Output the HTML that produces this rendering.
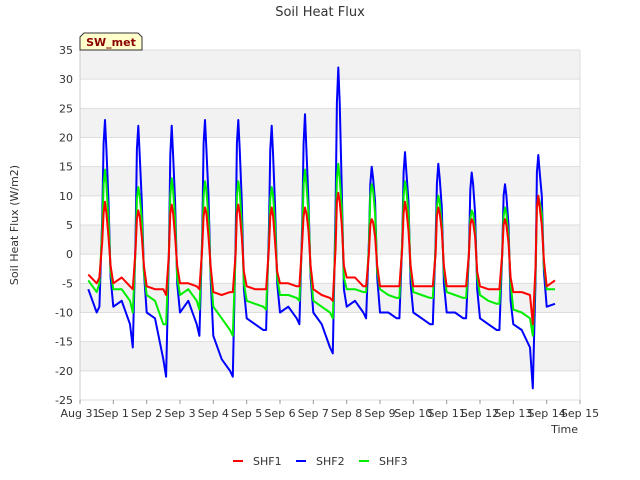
<!DOCTYPE html>
<html><head><meta charset="utf-8"><style>
body{margin:0;background:#fff;}
svg{display:block;font-family:"DejaVu Sans","Liberation Sans",sans-serif;}
</style></head><body>
<svg id="chart" width="640" height="480" viewBox="0 0 640 480">
<text x="320" y="16" text-anchor="middle" font-size="13" fill="#333">Soil Heat Flux</text>
<g id="bands"></g>
<g id="grid"></g>
<g id="yticks"></g>
<g id="xticks"></g>
<g id="series"></g>
<text x="18" y="225" transform="rotate(-90 18 225)" text-anchor="middle" font-size="11" fill="#333">Soil Heat Flux (W/m2)</text>
<text x="578" y="433" text-anchor="end" font-size="11" fill="#333">Time</text>
<g>
<path d="M80,50 L80,37 L84,33 L138,33 L142,37 L142,50 Z" fill="#ffffcc" stroke="#333" stroke-width="1"/>
<text x="111" y="46" text-anchor="middle" font-size="11" font-weight="bold" fill="#8b0000">SW_met</text>
</g>
<g>
<g><line x1="233" y1="461" x2="243" y2="461" stroke="#ff0000" stroke-width="2"/><text x="253" y="465" font-size="11" fill="#333">SHF1</text></g>
<g><line x1="296" y1="461" x2="306" y2="461" stroke="#0000ff" stroke-width="2"/><text x="316" y="465" font-size="11" fill="#333">SHF2</text></g>
<g><line x1="359" y1="461" x2="369" y2="461" stroke="#00ee00" stroke-width="2"/><text x="379" y="465" font-size="11" fill="#333">SHF3</text></g>
</g>
</svg>
<script>
const xTickLabels=["Aug 31","Sep 1","Sep 2","Sep 3","Sep 4","Sep 5","Sep 6","Sep 7","Sep 8","Sep 9","Sep 10","Sep 11","Sep 12","Sep 13","Sep 14","Sep 15"];
const yTicks=[-25,-20,-15,-10,-5,0,5,10,15,20,25,30,35];
const sampleHours=[0,6,12,14,16,17,18,19,20.5,22];
const shf1=[
 -3.5,-5,-4,2,7,9,7,3,-2,
 -5,-4,-5.5,-6,1,6,7.5,6.5,3,-2,
 -5.5,-6,-6,-7,0,7,8.5,7,3,-2,
 -5,-5,-5.5,-6,1,6.5,8,7,3,-2,
 -6.5,-7,-6.5,-6.5,0,7,8.5,7,3,-3,
 -5.5,-6,-6,-6,1,6.5,8,6.5,2,-3,
 -5,-5,-5.5,-5.5,2,6.5,8,7,4,-2,
 -6,-7,-7.5,-8,1,9,10.5,9,5,-2,
 -4,-4,-5.5,-5.5,0,5,6,5.5,3,-2,
 -5.5,-5.5,-5.5,-5.5,1,7,9,7.5,4,-2,
 -5.5,-5.5,-5.5,-5.5,0,6.5,8,7,4,-2,
 -5.5,-5.5,-5.5,-5.5,0,5,6,5.5,3,-3,
 -5.5,-6,-6,-6,0,5,6,5,2,-4,
 -6.5,-6.5,-7,-12,-2,8,10,8,5,-1,
 -5.5,-4.5];
const shf2=[
 -6,-10,-9,6,19,23,18,9,-4,
 -9,-8,-12,-16,3,18,22,17,9,-3,
 -10,-11,-18,-21,0,17,22,17,9,-5,
 -10,-8,-12,-14,3,19,23,18,10,-4,
 -14,-18,-20,-21,2,19,23,18,9,-6,
 -11,-12,-13,-13,4,18,22,17,8,-5,
 -10,-9,-11,-12,5,19,24,18,9,-4,
 -10,-12,-16,-17,8,26,32,26,11,-6,
 -9,-8,-10,-11,2,12,15,13,9,-4,
 -10,-10,-11,-11,2,14,17.5,14,9,-5,
 -10,-11,-12,-12,2,12,15.5,13,8,-5,
 -10,-10,-11,-11,0,11,14,12,7,-6,
 -11,-12,-13,-13,0,10,12,10,5,-8,
 -12,-13,-16,-23,-4,14,17,14,10,-3,
 -9,-8.5];
const shf3=[
 -4.5,-6.5,-5,4,12,14.5,12,6,-3,
 -6,-6,-8,-10,1,9.5,11.5,10,6,-3,
 -7,-8,-12,-12,0,10,13,11,6,-4,
 -7,-6,-8,-9.5,2,10,12.5,11,6,-3,
 -9,-11,-13,-14,0,10,12.5,11,5,-5,
 -8,-8.5,-9,-9.5,2,9.5,11.5,10,5,-4,
 -7,-7,-7.5,-8,3,12,14.5,12,7,-3,
 -8,-9,-10,-11,4,13,15.5,13,8,-4,
 -6,-6,-6.5,-6.5,1,10,12,11,7,-3,
 -6,-7,-7.5,-7.5,2,10,12.5,11,7,-3,
 -6.5,-7,-7.5,-7.5,1,8,10,9,5,-3,
 -6.5,-7,-7.5,-7.5,0,6,7.5,7,4,-4,
 -7,-8,-8.5,-8.5,0,6.5,8,7,3,-5,
 -9.5,-10,-11,-14,-3,8,10,9,7,-2,
 -6,-6];

const NS="http://www.w3.org/2000/svg";
const X0=80,X1=580,Y0=50,Y1=400,D0=0,D1=15,V0=-25,V1=35;
function xs(d){return X0+(d-D0)/(D1-D0)*(X1-X0);}
function ys(v){return Y1-(v-V0)/(V1-V0)*(Y1-Y0);}
function mk(tag,attrs,parent){const e=document.createElementNS(NS,tag);for(const k in attrs)e.setAttribute(k,attrs[k]);parent.appendChild(e);return e;}

const times=[];
for(let d=0;d<=14;d++){for(const h of sampleHours){const t=d+h/24;if(t>=0.25&&t<=14.26)times.push(t);}}

const bands=document.getElementById('bands');
mk('rect',{x:X0,y:Y0,width:X1-X0,height:Y1-Y0,fill:'#ffffff'},bands);
for(let i=0;i<yTicks.length-1;i++){
  if(i%2===1){
    const lo=yTicks[i],hi=yTicks[i+1];
    const b=mk('rect',{x:X0,y:ys(hi),width:X1-X0,height:ys(lo)-ys(hi),fill:'#f2f2f2'},bands);
    
    
  }
}
const grid=document.getElementById('grid'),yt=document.getElementById('yticks'),xt=document.getElementById('xticks');
for(const v of yTicks){
  const l=mk('line',{x1:X0,x2:X1,y1:ys(v),y2:ys(v),stroke:'#dddddd','stroke-width':1},grid);
  
  
  const t=mk('text',{x:X0-7,y:ys(v)+4,'text-anchor':'end','font-size':11,fill:'#333'},yt);
  t.textContent=v;
  
  
}
mk('line',{x1:X0,x2:X0,y1:Y0,y2:Y1,stroke:'#ccc'},grid);
mk('line',{x1:X1,x2:X1,y1:Y0,y2:Y1,stroke:'#ddd'},grid);
xTickLabels.forEach((lab,i)=>{
  const x=xs(i);
  mk('line',{x1:x,x2:x,y1:Y1,y2:Y1+4,stroke:'#999'},xt);
  const t=mk('text',{x:x,y:Y1+17,'text-anchor':'middle','font-size':11,fill:'#333'},xt);
  t.textContent=lab;
  
  
});
const series=document.getElementById('series');
[[shf2,'#0000ff','shf2-line'],[shf3,'#00ee00','shf3-line'],[shf1,'#ff0000','shf1-line']].forEach(([vals,col,name])=>{
  const pts=vals.map((v,i)=>xs(times[i]).toFixed(1)+','+ys(v).toFixed(1)).join(' ');
  const p=mk('polyline',{points:pts,fill:'none',stroke:col,'stroke-width':2,'stroke-linejoin':'round'},series);
  
  
});
</script>
</body></html>
